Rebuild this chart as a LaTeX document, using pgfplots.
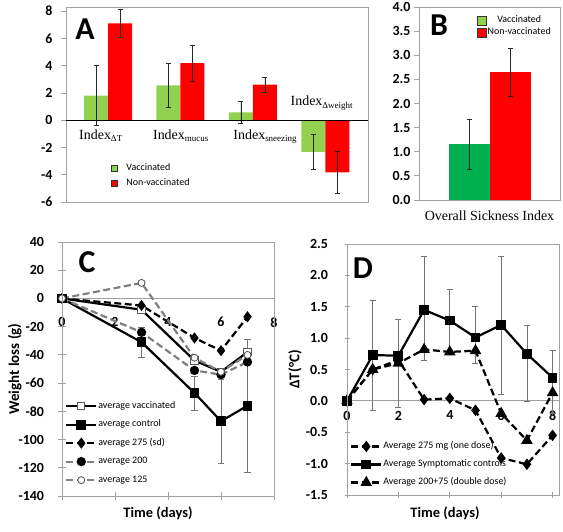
\documentclass[border=0pt]{standalone}
\usepackage{pgfplots}
\pgfplotsset{compat=1.18}
\usepackage{fontspec}
\setmainfont{Carlito}
\newfontfamily\tnr{Liberation Serif}
\definecolor{lgreen}{HTML}{92D050}
\definecolor{dgreen}{HTML}{00B050}
\definecolor{vred}{HTML}{FF0000}
\definecolor{framec}{HTML}{A0A0A0}
\definecolor{cgray}{HTML}{7F7F7F}
\newcommand{\fs}[1]{\fontsize{#1}{#1}\selectfont}
\pgfplotsset{
  panel/.style={
    scale only axis, anchor=south west,
    /pgf/number format/assume math mode=true,
    tick label style={font=\fs{14}\bfseries},
    axis line style={-, framec, line width=0.8bp},
    tick style={framec, line width=0.8bp},
    major tick length=5bp, tick align=outside,
    ytick pos=left, xtick pos=left,
    clip=false,
  },
  noarrows/.style={
    every inner x axis line/.append style={-}, every inner y axis line/.append style={-},
    every outer x axis line/.append style={-}, every outer y axis line/.append style={-},
    x axis line style={-}, y axis line style={-},
  },
  lineleg/.style={legend image code/.code={\draw[mark repeat=2,mark phase=2,##1] plot coordinates {(0bp,0bp) (15bp,0bp) (30bp,0bp)};}},
  ebar/.style={error bars/.cd, y dir=both, y explicit,
    error bar style={black!85, line width=0.6bp, solid},
    error mark options={rotate=90, mark size=2.5bp, black!85, line width=0.6bp, solid}},
  gbar/.style={error bars/.cd, y dir=both, y explicit,
    error bar style={black!55, line width=0.7bp, solid},
    error mark options={rotate=90, mark size=3bp, black!55, line width=0.7bp, solid}},
}
\begin{document}
\begin{tikzpicture}
\useasboundingbox (0bp,0bp) rectangle (563bp,532bp);

% ---------------- Panel A ----------------
\begin{axis}[panel, at={(66bp,330bp)}, width=302bp, height=195bp,
  xmin=0.42, xmax=4.59, ymin=-6, ymax=8.3,
  ytick={-6,-4,...,8}, xtick=\empty,
  ybar=0pt, bar width=24bp,
  yticklabel style={xshift=-5bp},
  legend style={at={(axis description cs:0.14,0.215)}, anchor=north west, draw=none, fill=none,
    font=\fs{10}, row sep=3bp, nodes={inner sep=1.5bp, text height=7bp, text depth=2bp},
    /tikz/every odd column/.append style={column sep=7bp}},
  legend cell align=left,
]
\addplot[legend image code/.code={\draw[fill=lgreen,draw=black!80,line width=0.5bp] (0bp,-3bp) rectangle (6bp,3bp);}, fill=lgreen, draw=none, ebar] coordinates {
  (1,1.8) +- (0,2.2)
  (2,2.55) +- (0,1.6)
  (3,0.58) +- (0,0.82)
  (4,-2.33) +- (0,1.3)
};
\addlegendentry{Vaccinated}
\addplot[legend image code/.code={\draw[fill=vred,draw=black!80,line width=0.5bp] (0bp,-3bp) rectangle (6bp,3bp);}, fill=vred, draw=none, ebar] coordinates {
  (1,7.1) +- (0,1.03)
  (2,4.18) +- (0,1.32)
  (3,2.6) +- (0,0.55)
  (4,-3.83) +- (0,1.55)
};
\addlegendentry{Non-vaccinated}
\draw[black, line width=1.3bp] (axis cs:0.42,0) -- (axis cs:4.59,0);
\node[anchor=base west, font=\tnr\fs{14}, inner sep=0] at (axis cs:0.6,-1.41) {Index\raisebox{-0.4ex}{\fs{9}ΔT}};
\node[anchor=base west, font=\tnr\fs{14}, inner sep=0] at (axis cs:1.62,-1.41) {Index\raisebox{-0.4ex}{\fs{9}mucus}};
\node[anchor=base west, font=\tnr\fs{14}, inner sep=0] at (axis cs:2.73,-1.41) {Index\raisebox{-0.4ex}{\fs{9}sneezing}};
\node[anchor=base west, font=\tnr\fs{14}, inner sep=0] at (axis cs:3.52,1.07) {Index\raisebox{-0.4ex}{\fs{9}Δweight}};
\node[font=\fs{32}\bfseries] at (axis description cs:0.063,0.887) {A};
\end{axis}

% ---------------- Panel B ----------------
\begin{axis}[panel, at={(419bp,332bp)}, width=141bp, height=193bp,
  xmin=0, xmax=2, ymin=0, ymax=4,
  ytick={0,0.5,...,4},
  yticklabel style={/pgf/number format/fixed, /pgf/number format/fixed zerofill, /pgf/number format/precision=1, xshift=0bp},
  xtick={1}, xticklabels={Overall Sickness Index},
  xticklabel style={font=\tnr\fs{14}, anchor=base, yshift=-16bp},
  x tick style={draw=none},
  extra x ticks={0,2}, extra x tick labels={}, extra x tick style={tick style={framec}},
  ybar=0pt, bar width=41bp,
  legend style={at={(axis description cs:0.39,0.97)}, anchor=north west, draw=none, fill=none,
    font=\fs{10}, row sep=1bp, nodes={inner sep=1bp, text height=7bp, text depth=2bp}},
  legend cell align=center,
]
\addplot[legend image code/.code={\draw[fill=lgreen,draw=black!80,line width=0.5bp] (0bp,-4.5bp) rectangle (9bp,4.5bp);}, fill=dgreen, draw=none, ebar] coordinates {
  (1,1.16) +- (0,0.52)
};
\addlegendentry{Vaccinated}
\addplot[legend image code/.code={\draw[fill=vred,draw=black!80,line width=0.5bp] (0bp,-4.5bp) rectangle (9bp,4.5bp);}, fill=vred, draw=none, ebar] coordinates {
  (1,2.65) +- (0,0.5)
};
\addlegendentry{Non-vaccinated}
\node[font=\fs{32}\bfseries] at (axis description cs:0.142,0.907) {B};
\end{axis}

% ---------------- Panel C ----------------
\begin{axis}[panel, at={(62bp,36bp)}, width=212bp, height=254bp,
  xmin=0, xmax=8, ymin=-140, ymax=40,
  axis x line=middle, axis y line=left, noarrows,
  hide obscured x ticks=false,
  xtick={0,2,4,6,8}, ytick={-140,-120,...,40},
  major tick length=7bp,
  xticklabel style={anchor=north, yshift=-12bp},
  yticklabel style={anchor=east, xshift=-11bp},
  xlabel={Time (days)}, ylabel={Weight loss (g)},
  xlabel style={at={(axis description cs:0.453,-0.067)}, anchor=center, font=\fs{14.5}\bfseries},
  ylabel style={at={(axis description cs:-0.222,0.5)}, anchor=center, font=\fs{15}\bfseries},
  legend style={at={(axis description cs:0,0.385)}, anchor=north west, draw=none, fill=none,
    font=\fs{10}, row sep=7bp, nodes={inner sep=1bp, text height=7bp, text depth=2.5bp}},
  legend cell align=left,
  extra description/.code={\draw[framec, line width=0.8bp] (0,0) rectangle (1,1);},
]
\addplot[lineleg, black, line width=2.2bp, mark=square*, mark size=3.6bp, mark options={solid, draw=black!65, fill=white, line width=0.9bp}] coordinates {
  (0,0) (3,-8) (5,-44) (6,-52) (7,-38)
};
\addlegendentry{average vaccinated}
\addplot[lineleg, black, line width=2.2bp, mark=square*, mark size=3.8bp, mark options={solid}, gbar] coordinates {
  (0,0) (3,-31) +- (0,10.5) (5,-67) +- (0,12) (6,-87) +- (0,30) (7,-76) +- (0,47)
};
\addlegendentry{average control}
\addplot[lineleg, black, line width=2.2bp, dash pattern=on 7bp off 3.5bp, mark=diamond*, mark size=3.8bp, mark options={solid}] coordinates {
  (0,0) (3,-5) (5,-28) (6,-37) (7,-13)
};
\addlegendentry{average 275 (sd)}
\addplot[lineleg, cgray, line width=2.2bp, dash pattern=on 7bp off 3.5bp, mark=*, mark size=3.5bp, mark options={solid, black}] coordinates {
  (0,0) (3,-24) (5,-51) (6,-54) (7,-45)
};
\addlegendentry{average 200}
\addplot[lineleg, cgray, line width=2.2bp, dash pattern=on 7bp off 3.5bp, mark=*, mark size=3.5bp, mark options={solid, draw=black!70, fill=white, line width=0.8bp}] coordinates {
  (0,0) (3,11) (5,-42) (6,-52) (7,-40)
};
\addlegendentry{average 125}
\node[font=\fs{32}\bfseries] at (axis description cs:0.118,0.921) {C};
\end{axis}

% ---------------- Panel D ----------------
\begin{axis}[panel, at={(347bp,37bp)}, width=212bp, height=251bp,
  xmin=0, xmax=8.25, ymin=-1.5, ymax=2.5,
  axis x line=middle, axis y line=left, noarrows,
  hide obscured x ticks=false,
  xtick={0,2,4,6,8}, ytick={-1.5,-1,...,2.5},
  xticklabel style={anchor=north, yshift=-4bp},
  yticklabel style={anchor=east, xshift=-13bp, /pgf/number format/fixed, /pgf/number format/fixed zerofill, /pgf/number format/precision=1},
  xlabel={Time (days)}, ylabel={ΔT(°C)},
  xlabel style={at={(axis description cs:0.462,-0.072)}, anchor=center, font=\fs{14.5}\bfseries},
  ylabel style={at={(axis description cs:-0.245,0.5)}, anchor=center, font=\fs{15}\bfseries},
  legend style={at={(axis description cs:0,0.225)}, anchor=north west, draw=none, fill=none,
    font=\fs{10}, row sep=6.5bp, nodes={inner sep=1bp, text height=7bp, text depth=2.5bp}},
  legend cell align=left,
  extra description/.code={\draw[framec, line width=0.8bp] (0,0) rectangle (1,1);},
]
\addplot[lineleg, black, line width=2.2bp, dash pattern=on 7bp off 3.5bp, mark=diamond*, mark size=4bp, mark options={solid}] coordinates {
  (0,0) (1,0.5) (2,0.65) (3,0.02) (4,0.04) (5,-0.15) (6,-0.91) (7,-1.01) (8,-0.55)
};
\addlegendentry{Average 275 mg (one dose)}
\addplot[lineleg, black, line width=2.2bp, mark=square*, mark size=3.8bp, mark options={solid}, gbar] coordinates {
  (0,0)
  (1,0.73) += (0,0.87) -= (0,0.88)
  (2,0.72) += (0,0.58) -= (0,0.82)
  (3,1.45) += (0,0.85) -= (0,0.8)
  (4,1.28) += (0,0.5) -= (0,0.5)
  (5,1.01) += (0,0.49) -= (0,0.42)
  (6,1.21) += (0,1.09) -= (0,1.11)
  (7,0.75) += (0,0.45) -= (0,0.75)
  (8,0.37) += (0,0.43) -= (0,0.57)
};
\addlegendentry{Average Symptomatic controls}
\addplot[lineleg, black, line width=2.2bp, dash pattern=on 7bp off 3.5bp, mark=triangle*, mark size=4.5bp, mark options={solid}] coordinates {
  (0,0) (1,0.5) (2,0.6) (3,0.82) (4,0.78) (5,0.8) (6,-0.2) (7,-0.63) (8,0.13)
};
\addlegendentry{Average 200+75 (double dose)}
\node[font=\fs{32}\bfseries] at (axis description cs:0.075,0.904) {D};
\end{axis}
\end{tikzpicture}
\end{document}
